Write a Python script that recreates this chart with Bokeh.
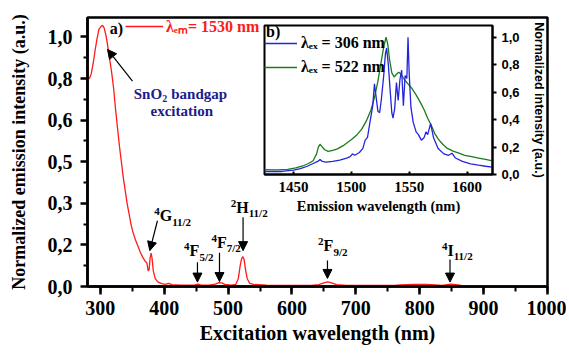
from bokeh.plotting import figure
from bokeh.models import (FixedTicker, SingleIntervalTicker, Label, Arrow, NormalHead,
                          Legend, LegendItem, GridBox, Range1d)
from bokeh.embed import file_html
from bokeh.resources import INLINE

# ---------------- data ----------------
exc_nm = [280, 283, 286, 289, 292, 295, 298, 301, 303.5, 306, 309, 312, 315, 318, 321, 324,
          327, 330, 333, 336, 339, 342, 345, 348, 351, 355, 359, 363, 367, 371, 373, 375,
          376.5, 378, 379.5, 381, 383, 386, 390, 396, 402, 407, 412, 425, 440, 448, 453, 458,
          470, 480, 486, 490, 495, 505, 512, 516, 519, 521, 523, 525, 527, 530, 534, 540,
          548, 560, 590, 630, 642, 650, 656, 662, 670, 685, 720, 760, 770, 790, 810, 825,
          835, 843, 849, 856, 865, 900, 950, 1000]
exc_int = [0.80, 0.80, 0.82, 0.86, 0.91, 0.955, 0.99, 1.0, 1.005, 0.995, 0.965, 0.92, 0.87,
           0.82, 0.76, 0.68, 0.61, 0.54, 0.48, 0.42, 0.37, 0.32, 0.28, 0.24, 0.21, 0.18,
           0.155, 0.13, 0.11, 0.095, 0.09, 0.06, 0.065, 0.11, 0.128, 0.11, 0.06, 0.03, 0.018,
           0.011, 0.008, 0.012, 0.007, 0.005, 0.005, 0.006, 0.009, 0.005, 0.005, 0.009, 0.015,
           0.014, 0.008, 0.005, 0.008, 0.03, 0.08, 0.105, 0.115, 0.105, 0.07, 0.03, 0.012,
           0.008, 0.007, 0.005, 0.004, 0.004, 0.007, 0.014, 0.018, 0.014, 0.007, 0.004, 0.004,
           0.004, 0.006, 0.008, 0.008, 0.006, 0.004, 0.007, 0.009, 0.007, 0.004, 0.003, 0.003,
           0.003]

em306_nm = [1425, 1440, 1450, 1456, 1462, 1467, 1471, 1473, 1475, 1478, 1484, 1490, 1496,
            1499, 1501, 1503, 1507, 1510, 1512, 1514, 1516.5, 1518.5, 1520, 1521.5, 1523,
            1524.5, 1526, 1528, 1529.5, 1530.5, 1532, 1533.5, 1535, 1536, 1537.5, 1539,
            1540.5, 1542, 1543.5, 1545, 1546.5, 1548, 1549, 1550, 1551.5, 1553.5, 1556, 1558,
            1560.5, 1563, 1564.5, 1566, 1568.5, 1571, 1575, 1580, 1584, 1587, 1590, 1596,
            1603, 1610, 1616, 1622]
em306_int = [0.022, 0.022, 0.032, 0.042, 0.06, 0.08, 0.095, 0.11, 0.095, 0.09, 0.095, 0.105,
             0.12, 0.13, 0.15, 0.14, 0.16, 0.19, 0.25, 0.27, 0.40, 0.50, 0.66, 0.56, 0.46,
             0.45, 0.55, 0.72, 0.88, 0.92, 0.80, 0.62, 0.45, 0.41, 0.48, 0.67, 0.54, 0.69,
             0.76, 0.50, 0.72, 0.70, 1.0, 0.74, 0.49, 0.38, 0.31, 0.29, 0.25, 0.27, 0.31,
             0.29, 0.37, 0.27, 0.19, 0.15, 0.14, 0.155, 0.12, 0.095, 0.078, 0.068, 0.06, 0.053]

em522_nm = [1425, 1435, 1445, 1452, 1458, 1463, 1467, 1470, 1471.5, 1473, 1474.5, 1477, 1480,
            1484, 1488, 1493, 1497, 1501, 1505, 1509, 1513, 1517, 1520, 1523, 1526, 1528,
            1530, 1531.5, 1533, 1535, 1537, 1539, 1541, 1543, 1546, 1549, 1552, 1556, 1560,
            1563, 1566, 1569, 1572, 1575, 1579, 1583, 1588, 1593, 1598, 1604, 1610, 1616, 1622]
em522_int = [0.035, 0.033, 0.038, 0.048, 0.062, 0.08, 0.10, 0.15, 0.20, 0.22, 0.205, 0.18,
             0.168, 0.175, 0.187, 0.21, 0.235, 0.26, 0.29, 0.33, 0.39, 0.47, 0.56, 0.68, 0.83,
             0.93, 1.0, 0.95, 0.84, 0.74, 0.71, 0.73, 0.745, 0.73, 0.69, 0.66, 0.63, 0.58,
             0.52, 0.47, 0.41, 0.36, 0.30, 0.26, 0.22, 0.19, 0.17, 0.155, 0.14, 0.13, 0.12,
             0.11, 0.10]

main_y_ticks = [0.0, 0.16, 0.32, 0.48, 0.64, 0.80, 0.96]
main_y_labels = ["0,0", "0,2", "0,3", "0,5", "0,6", "0,8", "1,0"]
main_y_minor = [0.08, 0.24, 0.40, 0.56, 0.72, 0.88]
inset_x_ticks = [1450, 1500, 1550, 1600]
inset_y_ticks = [0.0, 0.2, 0.4, 0.6, 0.8, 1.0]
inset_y_labels = ["0,0", "0,2", "0,4", "0,6", "0,8", "1,0"]

legend_main = "λₑₘ= 1530 nm"
legend_306 = "λₑₓ = 306 nm"
legend_522 = "λₑₓ = 522 nm"

# (superscript, letter, subscript, x, y) for the level annotations
levels = [("4", "G", "11/2", 384.5, 0.272),
          ("4", "F", "5/2", 431.2, 0.138),
          ("4", "F", "7/2", 474.1, 0.170),
          ("2", "H", "11/2", 504.3, 0.304),
          ("2", "F", "9/2", 640.9, 0.157),
          ("4", "I", "11/2", 834.9, 0.139)]
letter_w = {"G": 12.4, "F": 9.8, "H": 12.4, "I": 6.2}
# arrows: x_start, y_start, x_end, y_end
arrows = [(350.4, 0.790, 311.3, 0.912),
          (389.5, 0.253, 377.5, 0.138),
          (452.1, 0.093, 452.1, 0.017),
          (486.6, 0.130, 486.6, 0.019),
          (523.5, 0.266, 523.5, 0.138),
          (655.6, 0.100, 655.6, 0.031),
          (847.4, 0.104, 847.4, 0.017)]

SERIF = "Liberation Serif"
SANS = "Liberation Sans"

# ---------------- main plot ----------------
p = figure(width=566, height=351, x_range=Range1d(280, 1000), y_range=Range1d(0, 1.035),
           output_backend="svg", toolbar_location=None,
           min_border_left=87, min_border_right=19, min_border_top=17, min_border_bottom=65)
p.xgrid.visible = False
p.ygrid.visible = False
p.outline_line_color = "black"
p.outline_line_width = 2.5
p.outline_line_alpha = 1.0

r_exc = p.line(exc_nm, exc_int, color="#ff1a1a", line_width=1.3)

xa = p.xaxis[0]
xa.ticker = SingleIntervalTicker(interval=100, num_minor_ticks=2)
ya = p.yaxis[0]
ya.ticker = FixedTicker(ticks=main_y_ticks, minor_ticks=main_y_minor)
ya.major_label_overrides = {t: l for t, l in zip(main_y_ticks, main_y_labels)}
xa.axis_label = "Excitation wavelength (nm)"
ya.axis_label = "Normalized emission intensity (a.u.)"
for ax in (xa, ya):
    ax.axis_line_width = 2.5
    ax.major_tick_line_width = 2.5
    ax.minor_tick_line_width = 2
    ax.major_tick_in = 0
    ax.minor_tick_in = 0
    ax.major_label_text_font = SERIF
    ax.major_label_text_font_style = "bold"
    ax.major_label_text_font_size = "20px"
    ax.major_label_text_color = "black"
    ax.axis_label_text_font = SERIF
    ax.axis_label_text_font_style = "bold"
    ax.axis_label_text_color = "black"
xa.axis_label_text_font_size = "20px"
ya.axis_label_text_font_size = "18px"
xa.major_tick_out = 8
xa.minor_tick_out = 5
xa.major_label_standoff = 6
xa.axis_label_standoff = 4
ya.major_tick_out = 7
ya.minor_tick_out = 4
ya.major_label_standoff = 8
ya.axis_label_standoff = 16

leg = Legend(items=[LegendItem(label=legend_main, renderers=[r_exc])], location=(38, 249),
             border_line_alpha=0, background_fill_alpha=0, padding=0, margin=0, spacing=0,
             glyph_width=38, glyph_height=20, label_height=20, label_standoff=3,
             label_text_font=SERIF, label_text_font_style="bold", label_text_font_size="16px",
             label_text_color="#ff1a1a")
p.add_layout(leg)

def lab(fig, x, y, text, size, xo=0, yo=0, color="black", align="left", font=SERIF):
    fig.add_layout(Label(x=x, y=y, text=text, x_offset=xo, y_offset=yo, text_font=font,
                         text_font_style="bold", text_font_size=size, text_color=color,
                         text_align=align, text_baseline="middle"))

lab(p, 314.9, 0.9935, "a)", "16px")

NAVY = "#1c1c8c"
lab(p, 352.4, 0.740, "SnO", "15px", color=NAVY)
lab(p, 352.4, 0.740, "2", "10px", xo=28.5, yo=-4, color=NAVY)
lab(p, 352.4, 0.740, "bandgap", "15px", xo=37.5, color=NAVY)
lab(p, 427.6, 0.675, "excitation", "15px", color=NAVY, align="center")

for sup, letter, sub, x, y in levels:
    lab(p, x, y, sup, "11px", yo=4)
    lab(p, x, y, letter, "16px", xo=5.5)
    lab(p, x, y, sub, "11px", xo=5.5 + letter_w[letter], yo=-6)

for xs, ys, xe, ye in arrows:
    p.add_layout(Arrow(x_start=xs, y_start=ys, x_end=xe, y_end=ye, line_width=1.2,
                       line_color="black",
                       end=NormalHead(size=9, fill_color="black", line_color="black")))

# ---------------- inset ----------------
q = figure(width=286, height=212, x_range=Range1d(1425, 1622), y_range=Range1d(0, 1.085),
           y_axis_location="right", output_backend="svg", toolbar_location=None,
           min_border_left=2, min_border_top=17, min_border_right=56, min_border_bottom=46)
q.xgrid.visible = False
q.ygrid.visible = False
q.border_fill_alpha = 0
q.background_fill_color = "white"
q.outline_line_color = "black"
q.outline_line_width = 2
q.outline_line_alpha = 1.0

r522 = q.line(em522_nm, em522_int, color="#1b7b1b", line_width=1.3)
r306 = q.line(em306_nm, em306_int, color="#2424e0", line_width=1.3)

qx = q.xaxis[0]
qy = q.yaxis[0]
qx.ticker = FixedTicker(ticks=inset_x_ticks, minor_ticks=[])
qy.ticker = FixedTicker(ticks=inset_y_ticks, minor_ticks=[])
qy.major_label_overrides = {t: l for t, l in zip(inset_y_ticks, inset_y_labels)}
for ax in (qx, qy):
    ax.axis_line_width = 2
    ax.major_tick_line_width = 2
    ax.minor_tick_line_alpha = 0
    ax.major_label_text_font_style = "bold"
    ax.major_label_text_color = "black"
    ax.axis_label_text_font_style = "bold"
    ax.axis_label_text_color = "black"
qx.major_tick_out = 0
qx.major_tick_in = 3
qx.major_label_standoff = 7
qx.major_label_text_font = SERIF
qx.major_label_text_font_size = "15px"
qx.axis_label = "Emission wavelength (nm)"
qx.axis_label_text_font = SERIF
qx.axis_label_text_font_size = "14.5px"
qx.axis_label_standoff = 3
qy.major_tick_out = 4
qy.major_tick_in = 0
qy.major_label_standoff = 5
qy.major_label_text_font = SANS
qy.major_label_text_font_size = "13px"
qy.axis_label = "Normalized intensity (a.u.)"
qy.axis_label_text_font = SANS
qy.axis_label_text_font_size = "12.5px"
qy.axis_label_standoff = 9

lab(q, 1426.4, 1.04, "b)", "16px")
leg_kw = dict(border_line_alpha=0, background_fill_alpha=0, padding=0, margin=0, spacing=0,
              glyph_width=33, glyph_height=20, label_height=20, label_standoff=4,
              label_text_font=SERIF, label_text_font_style="bold",
              label_text_font_size="16px", label_text_color="black")
q.add_layout(Legend(items=[LegendItem(label=legend_306, renderers=[r306])],
                    location=(0, 121), **leg_kw))
q.add_layout(Legend(items=[LegendItem(label=legend_522, renderers=[r522])],
                    location=(0, 97), **leg_kw))

# main plot over the whole grid, inset placed over part of it
grid = GridBox(children=[(p, 0, 0, 3, 3), (q, 1, 1, 1, 1)],
               rows=["8px", "212px", "131px"],
               cols=["262px", "286px", "18px"])

open("out.html", "w").write(file_html(grid, INLINE))
